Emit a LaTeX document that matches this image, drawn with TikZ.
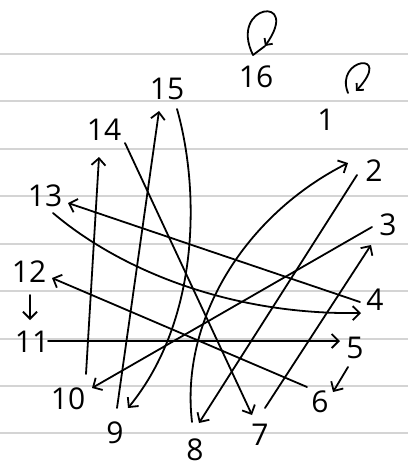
\documentclass[tikz,border=0pt]{standalone}
\usepackage{fontspec}
\setmainfont{Open Sans}
\usetikzlibrary{arrows.meta,calc}
\begin{document}
\begin{tikzpicture}[x=1pt,y=-1pt,
  rule/.style={draw=black!17,line width=1.4pt},
  lbl/.style={inner sep=0pt,font=\fontsize{30}{30}\selectfont},
  con/.style={line width=1.8pt,line cap=round,line join=round},
  arr/.style={con,-{Straight Barb[length=7pt,width=14pt]}},
  sarr/.style={con,-{Straight Barb[length=5pt,width=10pt]}}]
\useasboundingbox[fill=white] (0,0) rectangle (408,472);
% ruled paper
\foreach \yy in {54,101,149,196,244,291,339,386,433}
  \draw[rule] (0,\yy) -- (408,\yy);
% labels
\node[lbl] (n1) at (326,120) {1};
\node[lbl] (n2) at (374,171) {2};
\node[lbl] (n3) at (388,225) {3};
\node[lbl] (n4) at (375,300) {4};
\node[lbl] (n5) at (355,348) {5};
\node[lbl] (n6) at (320,402) {6};
\node[lbl] (n7) at (260,435) {7};
\node[lbl] (n8) at (195,450) {8};
\node[lbl] (n9) at (115,433) {9};
\node[lbl] (n10) at (68,399) {10};
\node[lbl] (n11) at (32,342) {11};
\node[lbl] (n12) at (29,272) {12};
\node[lbl] (n13) at (45,196) {13};
\node[lbl] (n14) at (104,130) {14};
\node[lbl] (n15) at (167,89) {15};
\node[lbl] (n16) at (256,77) {16};
% self loops
\draw[sarr] ($(n16)+(-3,-22)$) .. controls (228,4) and (302,-6) .. ($(n16)+(9,-31)$);
\draw[con] ($(n16)+(9,-31)$) -- ($(n16)+(-3,-22)$);
\draw[sarr] ($(n1)+(22,-27)$) .. controls (334,58) and (394,50) .. ($(n1)+(30,-29)$);
% connectors
\draw[arr] ($(n12)+(1,23)$) -- ($(n11)+(-2,-22)$);
\draw[arr] ($(n11)+(16,-1)$) -- ($(n5)+(-15,-7)$);
\draw[arr] ($(n10)+(18,-25)$) -- ($(n14)+(-5,27)$);
\draw[arr] ($(n9)+(2,-25)$) -- ($(n15)+(-8,22)$);
\draw[arr] ($(n15)+(10,20)$) .. controls (200,190) and (200,320) .. ($(n9)+(13,-25)$);
\draw[arr] ($(n14)+(21,13)$) -- ($(n7)+(-8,-20)$);
\draw[arr] ($(n4)+(-15,2)$) -- ($(n13)+(23,7)$);
\draw[arr] ($(n13)+(8,17)$) .. controls (120,270) and (230,315) .. ($(n4)+(-14,13)$);
\draw[arr] ($(n6)+(-13,-15)$) -- ($(n12)+(23,6)$);
\draw[arr] ($(n3)+(-16,2)$) -- ($(n10)+(24,-11)$);
\draw[arr] ($(n8)+(-3,-28)$) .. controls (180,320) and (245,215) .. ($(n2)+(-26,-8)$);
\draw[arr] ($(n2)+(-17,4)$) -- ($(n8)+(4,-27)$);
\draw[arr] ($(n7)+(5,-27)$) -- ($(n3)+(-17,20)$);
\draw[arr] ($(n5)+(-7,19)$) -- ($(n6)+(13,-10)$);
\end{tikzpicture}
\end{document}
